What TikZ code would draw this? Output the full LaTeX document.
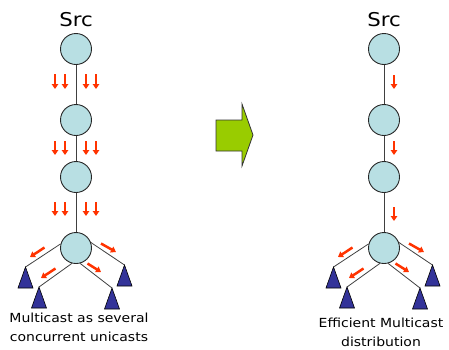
\documentclass[tikz,border=0pt]{standalone}
\usepackage{fontspec}
\setmainfont[FakeStretch=1.12]{DejaVu Sans}
\usetikzlibrary{arrows.meta}
\definecolor{nodefill}{HTML}{B8DFE3}
\definecolor{leafblue}{HTML}{333399}
\definecolor{flowred}{HTML}{FF3300}
\definecolor{stepgreen}{HTML}{99CC00}
\tikzset{
  router/.style={circle, draw=black!85, line width=0.9pt, fill=nodefill,
                 minimum size=31pt, inner sep=0pt},
  link/.style={draw=black!75, line width=0.8pt},
  leaf/.style={fill=leafblue, draw=black, line width=0.6pt, line join=miter},
  flow/.style={draw=flowred, line width=2.5pt, -{Triangle[width=6.5pt,length=5pt]}},
  caption/.style={font=\fontsize{12.5}{19}\selectfont, align=center, inner sep=0pt},
  srclabel/.style={font=\fontsize{19}{22}\selectfont, inner sep=0pt},
  bigarrow/.style={fill=stepgreen, draw=black!80, line width=0.8pt, line join=miter},
}
\begin{document}
\begin{tikzpicture}[x=1pt,y=-1pt]
\useasboundingbox (0,0) rectangle (449,349);

% ---------- left: several concurrent unicasts ----------
\node[srclabel] (Lsrc) at (76,20) {Src};
\node[router] (L1) at (76,49) {};
\node[router] (L2) at (76,120) {};
\node[router] (L3) at (76,177) {};
\node[router] (L4) at (76,248) {};
\draw[link] (L1) -- (L2);
\draw[link] (L2) -- (L3);
\draw[link] (L3) -- (L4);

\coordinate (La) at (25.5,267);
\coordinate (Lb) at (39,287);
\coordinate (Lc) at (112,288);
\coordinate (Ld) at (124.5,265);
\draw[link] (L4.165) -- (La);
\draw[link] (L4.255) -- (Lb);
\draw[link] (L4.285) -- (Lc);
\draw[link] (L4.20)  -- (Ld);
\foreach \p in {La,Lb,Lc,Ld}
  \draw[leaf] (\p) -- ++(-7.5,21) -- ++(15,0) -- cycle;

\foreach \x in {55,65,86,96} {
  \draw[flow] (\x,74) -- (\x,89);
  \draw[flow] (\x,141) -- (\x,155);
  \draw[flow] (\x,202) -- (\x,216);
}
\draw[flow] (44.5,247.5) -- (30,257);
\draw[flow] (55.5,268.5) -- (41,278);
\draw[flow] (101,243.5) -- (116,252);
\draw[flow] (87.5,263.5) -- (101,272);

\node[caption] (Lcap) at (79,327) {Multicast as several\\concurrent unicasts};

% ---------- transition arrow ----------
\draw[bigarrow] (216,120) -- (242,120) -- (242,104) -- (253,135)
  -- (242,166) -- (242,151) -- (216,151) -- cycle;

% ---------- right: efficient multicast ----------
\node[srclabel] (Rsrc) at (384,20) {Src};
\node[router] (R1) at (384,49) {};
\node[router] (R2) at (384,120) {};
\node[router] (R3) at (384,177) {};
\node[router] (R4) at (384,248) {};
\draw[link] (R1) -- (R2);
\draw[link] (R2) -- (R3);
\draw[link] (R3) -- (R4);

\coordinate (Ra) at (333.5,267);
\coordinate (Rb) at (347,287);
\coordinate (Rc) at (420,288);
\coordinate (Rd) at (432.5,265);
\draw[link] (R4.165) -- (Ra);
\draw[link] (R4.255) -- (Rb);
\draw[link] (R4.285) -- (Rc);
\draw[link] (R4.20)  -- (Rd);
\foreach \p in {Ra,Rb,Rc,Rd}
  \draw[leaf] (\p) -- ++(-7.5,21) -- ++(15,0) -- cycle;

\draw[flow] (394,75) -- (394,89);
\draw[flow] (394,141) -- (394,155);
\draw[flow] (394,207) -- (394,221);
\draw[flow] (352.5,247.5) -- (338,257);
\draw[flow] (363.5,268.5) -- (349,278);
\draw[flow] (409,243.5) -- (424,252);
\draw[flow] (395.5,263.5) -- (409,272);

\node[caption] (Rcap) at (381,332) {Efficient Multicast\\distribution};
\end{tikzpicture}
\end{document}
